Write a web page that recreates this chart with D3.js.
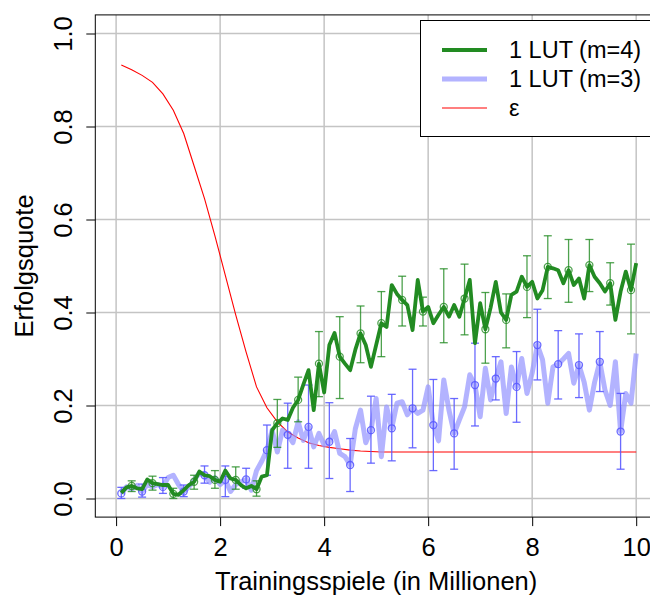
<!DOCTYPE html>
<html>
<head>
<meta charset="utf-8">
<script src="https://cdn.jsdelivr.net/npm/d3@7"></script>
<style>
  body { margin: 0; background: #fff; }
  svg text { font-family: "Liberation Sans", Arial, sans-serif; fill: #000; }
</style>
</head>
<body>
<svg id="chart" width="650" height="598"></svg>
<script>
// training games (millions), one value every 0.1
var games = d3.range(1, 101).map(function(i){ return i / 10; });

// 1 LUT (m=4)
var lut4 = [0.012,0.024,0.027,0.022,0.020,0.041,0.033,0.031,0.029,0.029,
            0.010,0.008,0.018,0.029,0.036,0.058,0.050,0.048,0.040,0.036,
            0.060,0.043,0.040,0.029,0.022,0.027,0.020,0.047,0.050,0.147,
            0.162,0.172,0.169,0.195,0.212,0.245,0.276,0.190,0.290,0.228,
            0.330,0.356,0.305,0.290,0.276,0.320,0.355,0.330,0.283,0.330,
            0.377,0.369,0.459,0.440,0.427,0.416,0.362,0.470,0.402,0.412,
            0.377,0.395,0.412,0.391,0.416,0.391,0.430,0.470,0.334,0.420,
            0.364,0.410,0.466,0.400,0.384,0.438,0.445,0.477,0.455,0.466,
            0.430,0.448,0.498,0.495,0.491,0.463,0.491,0.459,0.473,0.430,
            0.502,0.477,0.463,0.445,0.463,0.384,0.445,0.488,0.448,0.506];
// error bars of m=4 (at 0.3, 0.7, ... 9.9)
var lut4Lo = [0.015,0.018,0.000,0.020,0.022,0.020,0.005,0.110,0.165,0.219,0.215,0.292,0.305,
              0.371,0.371,0.335,0.352,0.291,0.324,0.389,0.430,0.422,0.445,0.416,0.354];
var lut4Hi = [0.038,0.048,0.022,0.050,0.060,0.068,0.038,0.213,0.261,0.359,0.391,0.414,0.445,
              0.478,0.433,0.494,0.504,0.443,0.440,0.522,0.565,0.557,0.557,0.507,0.547];

// 1 LUT (m=3)
var lut3 = [0.011,0.025,0.020,0.028,0.015,0.030,0.025,0.030,0.025,0.045,
            0.050,0.030,0.015,0.025,0.040,0.055,0.050,0.035,0.045,0.030,
            0.040,0.015,0.030,0.036,0.041,0.018,0.060,0.080,0.104,0.147,
            0.100,0.147,0.137,0.120,0.165,0.125,0.154,0.111,0.140,0.115,
            0.122,0.144,0.097,0.090,0.072,0.150,0.190,0.120,0.147,0.215,
            0.090,0.197,0.151,0.205,0.208,0.180,0.194,0.183,0.190,0.240,
            0.158,0.124,0.255,0.190,0.140,0.169,0.197,0.266,0.244,0.176,
            0.280,0.212,0.258,0.294,0.183,0.283,0.240,0.301,0.226,0.270,
            0.330,0.298,0.205,0.283,0.289,0.300,0.312,0.248,0.287,0.250,
            0.190,0.250,0.294,0.233,0.200,0.294,0.144,0.226,0.205,0.312];
// error bars of m=3 (at 0.1, 0.5, ... 9.7)
var lut3Lo = [0.000,0.003,0.011,0.004,0.033,0.004,0.022,0.050,0.065,0.065,0.043,0.015,0.076,
              0.081,0.109,0.060,0.063,0.156,0.212,0.164,0.255,0.214,0.217,0.230,0.063];
var lut3Hi = [0.024,0.031,0.045,0.029,0.070,0.070,0.065,0.158,0.205,0.244,0.206,0.129,0.220,
              0.224,0.278,0.256,0.215,0.334,0.305,0.316,0.407,0.361,0.354,0.359,0.226];

// epsilon (exploration rate)
var epsX = [0.1,0.3,0.5,0.7,0.9,1.1,1.3,1.5,1.7,1.9,2.1,2.3,2.5,2.7,2.9,3.1,3.3,3.5,3.7,3.9,4.1,4.3,4.5,4.7,4.9,5.1,10.0];
var epsY = [0.932,0.922,0.910,0.895,0.870,0.835,0.785,0.715,0.645,0.565,0.480,0.395,0.315,0.240,0.195,0.165,
            0.143,0.130,0.120,0.114,0.110,0.107,0.104,0.102,0.101,0.100,0.100];

var xTicks = [0, 2, 4, 6, 8, 10];
var yTicks = [0, 0.2, 0.4, 0.6, 0.8, 1.0];
var legendLabels = ['1 LUT (m=4)', '1 LUT (m=3)', '\u03b5'];

var green = '#228B22', blueLine = '#9999ff', blueBar = '#5a5aff', red = '#ff0000';
var FS = 25.5;

var svg = d3.select('#chart');
var x = d3.scaleLinear().domain([-0.4, 10.4]).range([95.3, 657]);
var y = d3.scaleLinear().domain([-0.04, 1.04]).range([517.1, 14.9]);

// grid
svg.append('g').selectAll('line').data(xTicks).enter().append('line')
    .attr('x1', function(d){ return x(d); }).attr('x2', function(d){ return x(d); })
    .attr('y1', y(1.04)).attr('y2', y(-0.04))
    .attr('stroke', '#c4c4c4').attr('stroke-width', 1.5);
svg.append('g').selectAll('line').data(yTicks).enter().append('line')
    .attr('y1', function(d){ return y(d); }).attr('y2', function(d){ return y(d); })
    .attr('x1', x(-0.4)).attr('x2', x(10.4))
    .attr('stroke', '#c4c4c4').attr('stroke-width', 1.5);

// axes
var xAxis = svg.append('g').attr('transform', 'translate(0,' + y(-0.04) + ')')
    .call(d3.axisBottom(x).tickValues(xTicks).tickSize(9).tickPadding(12).tickFormat(d3.format('d')));
xAxis.select('.domain').remove();
xAxis.selectAll('text').attr('font-size', FS).attr('font-family', null);
xAxis.selectAll('line').attr('stroke', '#000');

var yAxis = svg.append('g').attr('transform', 'translate(' + x(-0.4) + ',0)')
    .call(d3.axisLeft(y).tickValues(yTicks).tickSize(9).tickFormat(d3.format('.1f')));
yAxis.select('.domain').remove();
yAxis.selectAll('line').attr('stroke', '#000');
yAxis.selectAll('text')
    .attr('font-size', FS).attr('font-family', null)
    .attr('transform', 'rotate(-90)')
    .attr('x', 0).attr('y', -23.5).attr('dy', 0)
    .attr('text-anchor', 'middle');

var line = d3.line().x(function(d){ return x(d[0]); }).y(function(d){ return y(d[1]); });

// epsilon
svg.append('path').datum(d3.zip(epsX, epsY)).attr('d', line)
    .attr('fill', 'none').attr('stroke', red).attr('stroke-width', 1.1);

// m=3 series
svg.append('path').datum(d3.zip(games, lut3)).attr('d', line)
    .attr('fill', 'none').attr('stroke', blueLine).attr('stroke-opacity', 0.75)
    .attr('stroke-width', 5).attr('stroke-linejoin', 'round');

function errorBars(xs, mid, lo, hi, color, opacity) {
    var g = svg.append('g').attr('stroke', color).attr('stroke-opacity', opacity)
        .attr('stroke-width', 1.3).attr('fill', 'none');
    var rows = xs.map(function(v, i){ return {x: v, m: mid[i], lo: lo[i], hi: hi[i]}; });
    var bar = g.selectAll('g').data(rows).enter().append('g');
    bar.append('line').attr('x1', function(d){ return x(d.x); }).attr('x2', function(d){ return x(d.x); })
        .attr('y1', function(d){ return y(d.lo); }).attr('y2', function(d){ return y(d.hi); });
    bar.append('line').attr('x1', function(d){ return x(d.x) - 4; }).attr('x2', function(d){ return x(d.x) + 4; })
        .attr('y1', function(d){ return y(d.lo); }).attr('y2', function(d){ return y(d.lo); });
    bar.append('line').attr('x1', function(d){ return x(d.x) - 4; }).attr('x2', function(d){ return x(d.x) + 4; })
        .attr('y1', function(d){ return y(d.hi); }).attr('y2', function(d){ return y(d.hi); });
    bar.append('circle').attr('cx', function(d){ return x(d.x); }).attr('cy', function(d){ return y(d.m); })
        .attr('r', 3.5);
}

var idx3 = d3.range(0, 100, 4);
errorBars(idx3.map(function(i){ return games[i]; }), idx3.map(function(i){ return lut3[i]; }),
          lut3Lo, lut3Hi, blueBar, 0.9);

// m=4 series
svg.append('path').datum(d3.zip(games, lut4)).attr('d', line)
    .attr('fill', 'none').attr('stroke', green).attr('stroke-width', 3.8).attr('stroke-linejoin', 'round');

var idx4 = d3.range(2, 100, 4);
errorBars(idx4.map(function(i){ return games[i]; }), idx4.map(function(i){ return lut4[i]; }),
          lut4Lo, lut4Hi, green, 0.8);

// plot box
svg.append('rect').attr('x', x(-0.4)).attr('y', y(1.04))
    .attr('width', x(10.4) - x(-0.4)).attr('height', y(-0.04) - y(1.04))
    .attr('fill', 'none').attr('stroke', '#000').attr('stroke-width', 1);

// axis titles
svg.append('text').attr('x', (x(-0.4) + x(10.4)) / 2).attr('y', 590)
    .attr('text-anchor', 'middle').attr('font-size', FS).text('Trainingsspiele (in Millionen)');
svg.append('text').attr('transform', 'translate(33,' + y(0.5) + ') rotate(-90)')
    .attr('text-anchor', 'middle').attr('font-size', FS).text('Erfolgsquote');

// legend
var lg = svg.append('g');
lg.append('rect').attr('x', 420.5).attr('y', 20.5).attr('width', 250).attr('height', 116)
    .attr('fill', '#fff').attr('stroke', '#000').attr('stroke-width', 1);
var lgStyle = [
    {c: green, w: 3.8, o: 1},
    {c: blueLine, w: 5, o: 0.75},
    {c: red, w: 1.1, o: 1}
];
legendLabels.forEach(function(lbl, i){
    var yy = 50 + i * 29;
    lg.append('line').attr('x1', 442).attr('x2', 487).attr('y1', yy).attr('y2', yy)
        .attr('stroke', lgStyle[i].c).attr('stroke-width', lgStyle[i].w).attr('stroke-opacity', lgStyle[i].o);
    lg.append('text').attr('x', 509).attr('y', yy).attr('dy', '0.35em')
        .attr('font-size', 23.5).text(lbl);
});
</script>
</body>
</html>
